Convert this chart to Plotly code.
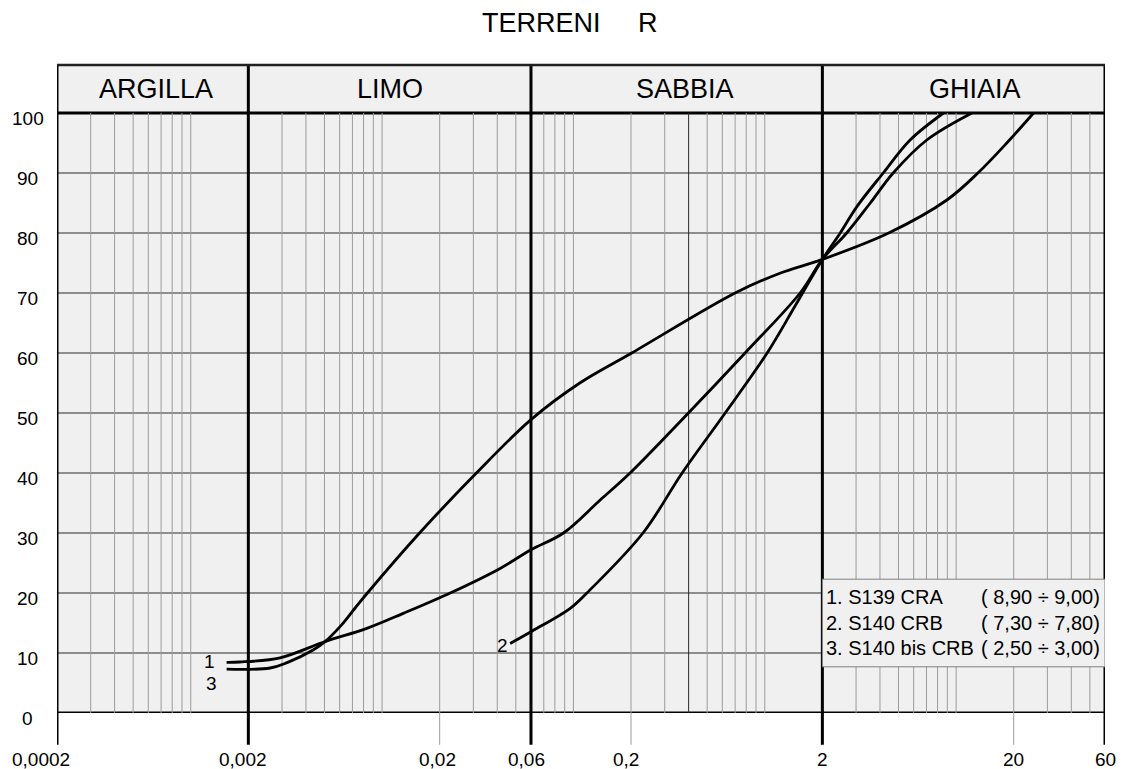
import math
import plotly.graph_objects as go

# ---- grain-size distribution data: diameter (mm) vs. percent passing ----
d_s139_cra = [0.00154, 0.0018, 0.00293, 0.00503, 0.00832, 0.0129, 0.0227, 0.0414, 0.06,
              0.0887, 0.138, 0.1977, 0.399, 0.789, 1.53, 2.0, 2.68, 3.56, 4.69, 7.03, 12.1]
p_s139_cra = [8.45, 8.5, 9.2, 11.9, 14.1, 16.6, 20.0, 24.1, 27.2,
              30.0, 35.5, 40.0, 50.0, 60.0, 70.0, 75.6, 80.0, 85.0, 90.0, 95.5, 100.0]

d_s140_crb = [0.0467, 0.06, 0.0962, 0.1175, 0.231, 0.370, 0.621, 1.029,
              1.45, 2.0, 2.48, 3.03, 4.16, 5.75, 8.59]
p_s140_crb = [11.6, 13.55, 17.45, 20.0, 30.0, 40.0, 50.0, 60.0,
              68.0, 75.6, 80.0, 84.4, 90.0, 95.5, 100.0]

d_s140bis_crb = [0.00154, 0.0026, 0.00319, 0.00436, 0.00503, 0.00603, 0.00723, 0.00838,
                 0.0157, 0.0311, 0.06, 0.108, 0.2017, 0.700, 1.2,
                 2.0, 4.44, 8.95, 13.0, 18.4, 25.4]
p_s140bis_crb = [7.3, 7.5, 8.4, 10.5, 11.9, 14.4, 17.5, 20.0,
                 30.0, 40.0, 48.9, 55.0, 60.0, 70.0, 73.3,
                 75.6, 80.0, 85.5, 90.0, 95.0, 100.0]

curve_numbers = ["1", "2", "3"]
curve_label_pos = [(0.00126, 8.55), (0.0428, 11.3), (0.00129, 4.95)]

legend_names = ["1. S139 CRA", "2. S140 CRB", "3. S140 bis CRB"]
legend_depths = ["( 8,90 ÷ 9,00)", "( 7,30 ÷ 7,80)", "( 2,50 ÷ 3,00)"]

# ---- axis / class boundaries ----
x_min, x_max = 0.0002, 60
class_bounds = [0.002, 0.06, 2]
class_names = ["ARGILLA", "LIMO", "SABBIA", "GHIAIA"]
class_label_paper_x = [0.0945, 0.3177, 0.5992, 0.876]
x_tick_vals = [0.0002, 0.002, 0.02, 0.06, 0.2, 2, 20, 60]
x_tick_text = ["0,0002", "0,002", "0,02", "0,06", "0,2", "2", "20", "60"]
x_tick_shift = [-16, -5, -2, -4, -5, 0, 0, 0]
y_tick_vals = list(range(0, 101, 10))

minor_x = ([k * 1e-4 for k in range(3, 11)] + [k * 1e-3 for k in range(3, 11)] +
           [0.02, 0.03, 0.04, 0.05] + [0.07, 0.08, 0.09, 0.1, 0.2, 0.3] +
           [k / 10 for k in range(5, 11)] + list(range(3, 11)) + [20, 30, 40, 50])
dark_x = [0.4]
tick_ext_x = [0.02, 0.2, 20]

FONT = "Arial, Liberation Sans, sans-serif"
Y_TOP = 108  # header band occupies 100..108
EXT = -0.049  # tick extension below the axis (paper units)

fig = go.Figure()

for d, p in [(d_s139_cra, p_s139_cra), (d_s140_crb, p_s140_crb), (d_s140bis_crb, p_s140bis_crb)]:
    fig.add_trace(go.Scatter(x=d, y=p, mode="lines",
                             line=dict(color="black", width=2.8, shape="spline", smoothing=1.0),
                             hoverinfo="skip", showlegend=False))

shapes = []
# minor vertical grid
for xv in minor_x:
    shapes.append(dict(type="line", xref="x", yref="y", x0=xv, x1=xv, y0=0, y1=100,
                       line=dict(color="#9c9c9c", width=1), layer="below"))
for xv in tick_ext_x:
    shapes.append(dict(type="line", xref="x", yref="paper", x0=xv, x1=xv, y0=EXT, y1=0,
                       line=dict(color="#9c9c9c", width=1), layer="below"))
# horizontal grid
for yv in y_tick_vals[1:-1]:
    shapes.append(dict(type="line", xref="paper", yref="y", x0=0, x1=1, y0=yv, y1=yv,
                       line=dict(color="#2a2a2a", width=1), layer="below"))
for xv in dark_x:
    shapes.append(dict(type="line", xref="x", yref="y", x0=xv, x1=xv, y0=0, y1=100,
                       line=dict(color="#2a2a2a", width=1), layer="below"))
# legend box
shapes.append(dict(type="rect", xref="x", yref="y", x0=2, x1=x_max, y0=7.7, y1=22.3,
                   fillcolor="#f0f0f0", line=dict(color="#808080", width=1), layer="below"))
# class boundaries and frame
for xv in [x_min] + class_bounds + [x_max]:
    shapes.append(dict(type="line", xref="x", yref="paper", x0=xv, x1=xv, y0=EXT, y1=1,
                       line=dict(color="black", width=3), layer="below"))
for yv in [0, 100]:
    shapes.append(dict(type="line", xref="paper", yref="y", x0=0, x1=1, y0=yv, y1=yv,
                       line=dict(color="black", width=3), layer="below"))
shapes.append(dict(type="line", xref="paper", yref="paper", x0=0, x1=1, y0=1, y1=1,
                   line=dict(color="#202020", width=2.5), layer="below"))

ann = []
ann.append(dict(text="TERRENI" + "\u00a0" * 5 + "R", xref="paper", yref="paper",
                x=0.4895, y=1.0648, xanchor="center", yanchor="middle", showarrow=False,
                font=dict(family=FONT, size=27, color="black")))
for name, px in zip(class_names, class_label_paper_x):
    ann.append(dict(text=name, xref="paper", yref="y", x=px, y=104, xanchor="center",
                    yanchor="middle", showarrow=False, font=dict(family=FONT, size=27, color="black")))
for yv in y_tick_vals:
    ann.append(dict(text=str(yv), xref="paper", yref="y", x=-0.0277, y=yv, yshift=-5,
                    xanchor="center", yanchor="middle", showarrow=False,
                    font=dict(family=FONT, size=19, color="black")))
for xv, tx, sh in zip(x_tick_vals, x_tick_text, x_tick_shift):
    ann.append(dict(text=tx, xref="x", yref="paper", x=math.log10(xv), y=-0.071, xshift=sh,
                    xanchor="center", yanchor="middle", showarrow=False,
                    font=dict(family=FONT, size=19, color="black")))
for num, (xv, yv) in zip(curve_numbers, curve_label_pos):
    ann.append(dict(text=num, xref="x", yref="y", x=math.log10(xv), y=yv,
                    xanchor="center", yanchor="middle", showarrow=False,
                    font=dict(family=FONT, size=19, color="black")))
for name, depth, yv in zip(legend_names, legend_depths, [19.4, 15.0, 10.8]):
    ann.append(dict(text=name, xref="x", yref="y", x=math.log10(2), y=yv, xshift=2,
                    xanchor="left", yanchor="middle", showarrow=False,
                    font=dict(family=FONT, size=20, color="black")))
    ann.append(dict(text=depth, xref="x", yref="y", x=math.log10(x_max), y=yv, xshift=-3,
                    xanchor="right", yanchor="middle", showarrow=False,
                    font=dict(family=FONT, size=20, color="black")))

fig.update_layout(
    width=1123, height=769,
    margin=dict(l=57, r=18, t=65, b=56),
    paper_bgcolor="white", plot_bgcolor="#f0f0f0",
    shapes=shapes, annotations=ann,
    xaxis=dict(type="log", range=[math.log10(x_min), math.log10(x_max)],
               showgrid=False, zeroline=False, showticklabels=False, showline=False, ticks=""),
    yaxis=dict(range=[0, Y_TOP], showgrid=False, zeroline=False, showticklabels=False,
               showline=False, ticks=""),
    showlegend=False,
)

fig.write_html("out.html")
